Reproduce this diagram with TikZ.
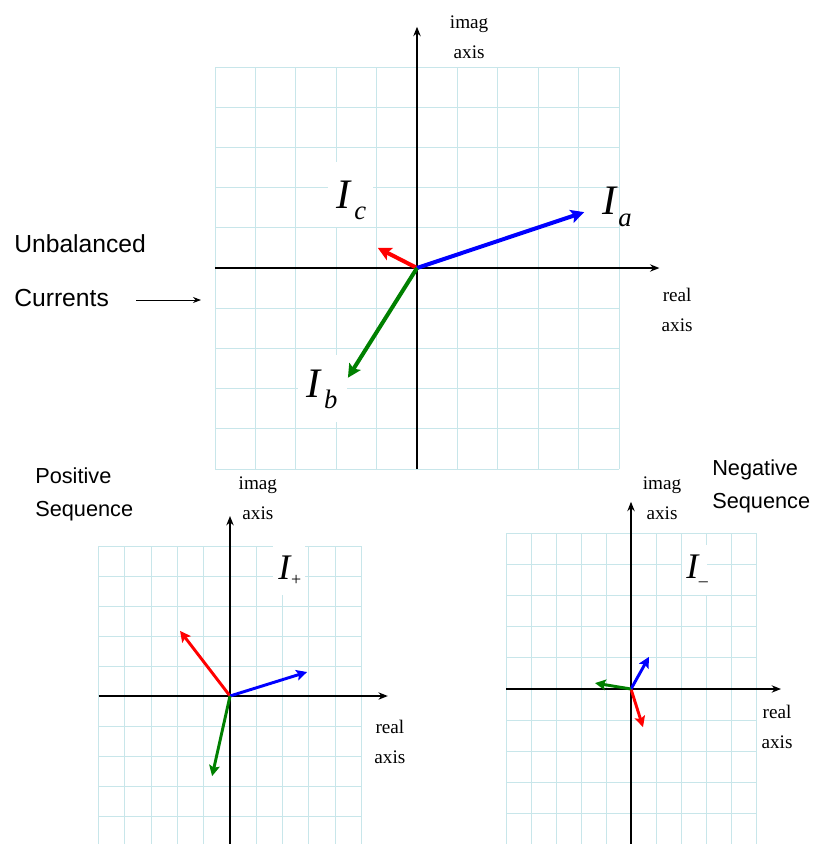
\documentclass[tikz,border=0pt]{standalone}
\usepackage{fontspec}
\setmainfont{Liberation Serif}
\newfontfamily\lblsans{Liberation Sans}
\usetikzlibrary{arrows.meta}
\definecolor{gridcol}{HTML}{C8E6EA}
\definecolor{acol}{HTML}{0000FF}
\definecolor{bcol}{HTML}{008000}
\definecolor{ccol}{HTML}{FF0000}
% I with a dropped subscript: size of I, subscript, its size, drop, gap
\newcommand{\curlbl}[5]{{\fontsize{#1}{#1}\selectfont\itshape I}\hspace{#5}\raisebox{-#4}{\fontsize{#3}{#3}\selectfont #2}}

\begin{document}
\begin{tikzpicture}[x=0.75pt,y=-0.75pt,
  gridline/.style={gridcol,line width=0.7pt,step=1},
  axisline/.style={line width=1.1pt,-{Stealth[length=7pt,width=5.5pt]}},
  phasor/.style={line width=3pt,-{Stealth[length=10pt,width=10pt,inset=2pt]}},
  phasorsm/.style={line width=2.2pt,-{Stealth[length=8pt,width=8pt,inset=1.5pt]}},
  axlabel/.style={align=center,inner sep=0pt,font=\fontsize{14.4}{22.5}\selectfont},
  seqlabel/.style={anchor=base west,inner sep=0pt,font=\lblsans\fontsize{16.3}{20}\selectfont},
  curlabel/.style={anchor=base west,inner sep=0pt}]
  \useasboundingbox (0,0) rectangle (813,844);

  % unbalanced currents
  \node[seqlabel,font=\lblsans\fontsize{18.5}{20}\selectfont] (unb) at (14,252) {Unbalanced};
  \node[seqlabel,font=\lblsans\fontsize{18.5}{20}\selectfont] (cur) at (14,306) {Currents};
  \coordinate (curS) at (136,300);
  \coordinate (curE) at (201,300);
  \draw[line width=0.6pt,-{Stealth[length=6pt,width=4.5pt]}] (curS) -- (curE);

  \begin{scope}[shift={(417,268)},x=30.3pt,y=30.15pt]
    \draw[gridline] (-5,-5) grid (5,5);
    \fill[white] (-2.2,1.02) rectangle (-1.09,2.64);
    \fill[white] (-2.95,-3.83) rectangle (-1.73,-2.16);
    \draw[axisline] (-5,0) -- (6,0);
    \draw[axisline] (0,-5) -- (0,6);
    \coordinate (o1) at (0,0);
    \coordinate (ia) at (4.14,1.39);
    \coordinate (ic) at (-0.97,0.5);
    \coordinate (ib) at (-1.71,-2.73);
    \draw[phasor,ccol] (o1) -- (ic);
    \draw[phasor,acol] (o1) -- (ia);
    \draw[phasor,bcol] (o1) -- (ib);
    \node[axlabel] (im1) at (1.29,5.75) {imag\\axis};
    \node[axlabel] (re1) at (6.44,-1.04) {real\\axis};
    \node[curlabel] (la) at (4.58,1.32) {\curlbl{31.5pt}{\itshape a}{20pt}{9pt}{1.5pt}};
    \node[curlabel] (lc) at (-2.0,1.47) {\curlbl{31.5pt}{\itshape c}{20pt}{8pt}{3pt}};
    \node[curlabel] (lb) at (-2.75,-3.23) {\curlbl{31.5pt}{\itshape b}{20pt}{8pt}{3pt}};
  \end{scope}

  % positive sequence
  \node[seqlabel] (pos1) at (35,483) {Positive};
  \node[seqlabel] (pos2) at (35,516) {Sequence};
  \begin{scope}[shift={(230,696)},x=19.725pt,y=22.5pt]
    \draw[gridline] (-5,-5) grid (5,5);
    \fill[white] (1.63,3.37) rectangle (2.85,5.05);
    \draw[axisline] (-5,0) -- (6,0);
    \draw[axisline] (0,-5) -- (0,6);
    \coordinate (o2) at (0,0);
    \coordinate (pa) at (2.93,0.8);
    \coordinate (pc) at (-1.9,2.17);
    \coordinate (pb) at (-0.68,-2.67);
    \draw[phasorsm,ccol] (o2) -- (pc);
    \draw[phasorsm,acol] (o2) -- (pa);
    \draw[phasorsm,bcol] (o2) -- (pb);
    \node[axlabel] (im2) at (1.06,6.6) {imag\\axis};
    \node[axlabel] (re2) at (6.08,-1.53) {real\\axis};
    \node[curlabel] (lp) at (1.83,3.9) {\curlbl{27pt}{+}{13.5pt}{5pt}{0.5pt}};
  \end{scope}

  % negative sequence
  \node[seqlabel] (neg1) at (712,475) {Negative};
  \node[seqlabel] (neg2) at (712,508) {Sequence};
  \begin{scope}[shift={(631,689)},x=18.75pt,y=23.4pt]
    \draw[gridline] (-5,-5) grid (5,5);
    \fill[white] (2.04,3.01) rectangle (3.04,4.62);
    \draw[axisline] (-5,0) -- (6,0);
    \draw[axisline] (0,-5) -- (0,6);
    \coordinate (o3) at (0,0);
    \coordinate (na) at (0.72,1.03);
    \coordinate (nc) at (0.48,-1.22);
    \coordinate (nb) at (-1.44,0.19);
    \draw[phasorsm,ccol] (o3) -- (nc);
    \draw[phasorsm,acol] (o3) -- (na);
    \draw[phasorsm,bcol] (o3) -- (nb);
    \node[axlabel] (im3) at (1.24,6.12) {imag\\axis};
    \node[axlabel] (re3) at (5.84,-1.22) {real\\axis};
    \node[curlabel] (ln) at (2.2,3.53) {\curlbl{27pt}{–}{13.5pt}{5.5pt}{0.5pt}};
  \end{scope}
\end{tikzpicture}
\end{document}
